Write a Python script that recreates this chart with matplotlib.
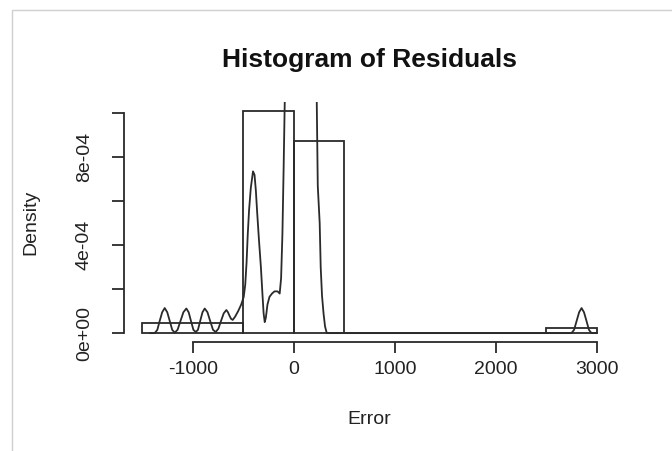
import numpy as np
import matplotlib
matplotlib.use('Agg')
import matplotlib.pyplot as plt
from matplotlib.patches import Rectangle

plt.rcParams['font.family'] = ['Liberation Sans', 'DejaVu Sans']

# histogram (R hist with uneven breaks)
breaks = np.array([-1500, -500, 0, 500, 2500, 3000])
counts = np.array([4, 45, 39, 0, 1])

# density curve, y in units of 1e-4
# (the middle peak goes above the plot top and gets clipped)
dens_x = [-1420, -1376, -1350, -1327, -1302, -1277, -1252, -1227, -1203,
          -1178, -1150, -1121, -1092, -1063, -1040, -1017, -993,
          -970, -948, -926, -903, -881, -854, -827, -799,
          -772, -746, -720, -693, -667, -651, -635, -620, -604,
          -580, -550, -520, -495, -480, -467, -455, -442, -425, -403,
          -388, -375, -362, -345, -325, -310, -298, -287, -276, -260,
          -240, -215, -190, -160, -139, -125, -112, -100, -89,
          -40, 60, 180, 228, 238, 257, 267, 280, 295, 310, 327,
          1000, 2000, 2749, 2775, 2800, 2825, 2849, 2873, 2898, 2922, 2947, 3000]
dens_y = [0.0, 0.0, 0.15, 0.55, 0.95, 1.14, 0.95, 0.55, 0.15,
          0.02, 0.15, 0.55, 0.95, 1.12, 0.95, 0.55, 0.15,
          0.05, 0.15, 0.55, 0.95, 1.12, 0.95, 0.55, 0.15,
          0.05, 0.2, 0.55, 0.9, 1.05, 0.95, 0.78, 0.65, 0.6,
          0.75, 1.0, 1.3, 1.65, 2.2, 3.2, 4.5, 5.6, 6.6, 7.36,
          7.2, 6.5, 5.5, 4.3, 3.0, 1.8, 0.9, 0.5, 0.7, 1.3,
          1.65, 1.8, 1.9, 1.9, 1.8, 2.5, 4.5, 7.5, 10.5,
          16.0, 20.0, 16.0, 10.5, 6.7, 5.0, 3.0, 1.7, 0.9, 0.3, 0.0,
          0.0, 0.0, 0.0, 0.15, 0.55, 0.95, 1.14, 0.95, 0.55, 0.15, 0.0, 0.0]

xticks = [-1000, 0, 1000, 2000, 3000]
yticks = [0, 2e-4, 4e-4, 6e-4, 8e-4, 1e-3]
ylabels = ['0e+00', '', '4e-04', '', '8e-04', '']

widths = np.diff(breaks)
density = counts / (counts.sum() * widths)

W, H = 672, 451
fig = plt.figure(figsize=(W/100, H/100), dpi=100)
fig.patches.append(Rectangle((12/W, -0.1), 1.2, 1 - 10/H + 0.1, transform=fig.transFigure,
                             fill=False, edgecolor='#cfcfcf', lw=1.0))

ax = fig.add_axes([124/W, 1 - 342/H, (615-124)/W, (342-102)/H])
lc = '#2a2a2a'
ax.bar(breaks[:-1], density, width=widths, align='edge', fill=False,
       edgecolor=lc, lw=1.3)
ax.plot(dens_x, np.array(dens_y)*1e-4, color=lc, lw=1.3)

xr = breaks[-1] - breaks[0]
ax.set_xlim(breaks[0] - 0.04*xr, breaks[-1] + 0.04*xr)
ymax = density.max()
ax.set_ylim(-0.04*ymax, 1.04*ymax)

for s in ['top', 'right']:
    ax.spines[s].set_visible(False)
ax.spines['bottom'].set_bounds(-1000, 3000)
ax.spines['left'].set_bounds(0, 1e-3)
for s in ['bottom', 'left']:
    ax.spines[s].set_color(lc)
    ax.spines[s].set_linewidth(1.3)

ax.set_xticks(xticks)
ax.set_xticklabels([str(t) for t in xticks])
ax.set_yticks(yticks)
ax.set_yticklabels(ylabels, rotation=90, va='center')
ax.tick_params(axis='x', direction='out', length=8, width=1.3, color=lc,
               labelsize=14, pad=6, labelcolor='#222222')
ax.tick_params(axis='y', direction='out', length=8.5, width=1.3, color=lc,
               labelsize=14, pad=14, labelcolor='#222222')

fig.text(369.5/W, 1 - 60/H, 'Histogram of Residuals', ha='center', va='center',
         fontsize=19, fontweight='bold', color='#111111')
fig.text(369.5/W, 1 - 420/H, 'Error', ha='center', va='center', fontsize=14,
         color='#222222')
fig.text(31/W, 1 - 222/H, 'Density', ha='center', va='center', fontsize=14,
         rotation=90, color='#222222')

fig.savefig('out.png', dpi=100)
